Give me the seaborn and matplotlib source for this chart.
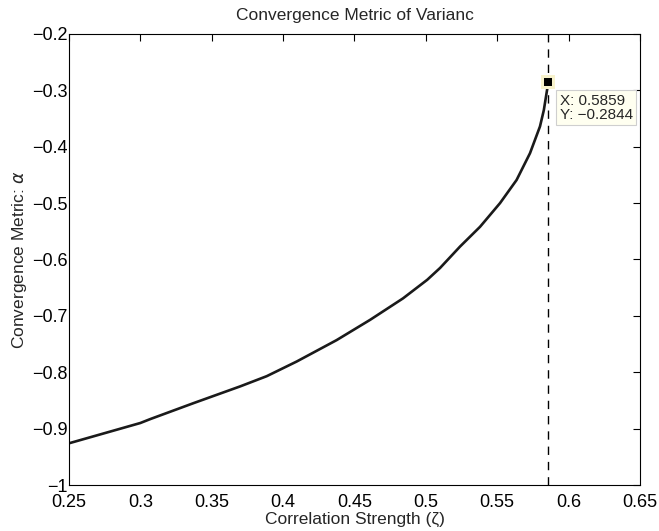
import numpy as np
import pandas as pd
import seaborn as sns
import matplotlib
matplotlib.use("Agg")
import matplotlib.pyplot as plt

# valores
zeta = [0.25, 0.275, 0.300, 0.307, 0.337, 0.370, 0.3885, 0.4095, 0.4375, 0.461, 0.484,
        0.501, 0.510, 0.524, 0.538, 0.552, 0.5636, 0.573, 0.580, 0.5827, 0.5846, 0.5859]
alpha = [-0.926, -0.908, -0.890, -0.883, -0.855, -0.825, -0.807, -0.781, -0.743, -0.707, -0.669,
         -0.636, -0.615, -0.577, -0.542, -0.500, -0.459, -0.4115, -0.364, -0.335, -0.305, -0.2844]
x_tip = 0.5859
y_tip = -0.2844
xticks = [0.25, 0.3, 0.35, 0.4, 0.45, 0.5, 0.55, 0.6, 0.65]
yticks = [-1, -0.9, -0.8, -0.7, -0.6, -0.5, -0.4, -0.3, -0.2]

df = pd.DataFrame({'zeta': zeta, 'alpha': alpha})

sns.set_style("white")
plt.rcParams['font.family'] = ['Liberation Sans', 'DejaVu Sans']
plt.rcParams['mathtext.fontset'] = 'dejavusans'

fig = plt.figure(figsize=(6.59, 5.31), dpi=100)
ax = fig.add_axes([0.1047, 0.0866, 0.8663, 0.8494])

sns.lineplot(data=df, x='zeta', y='alpha', sort=False, color='#1a1a1a', linewidth=1.9, ax=ax)
ax.axvline(x_tip, color='k', linestyle=(0, (6, 5)), linewidth=1)

# datatip
ax.plot([x_tip], [y_tip], marker='s', markersize=10, color='#f7f2cc',
        markeredgewidth=0, zorder=5, clip_on=False)
ax.plot([x_tip], [y_tip], marker='s', markersize=6, color='k',
        markeredgewidth=0, zorder=6, clip_on=False)
ax.annotate(f"X: {x_tip}\nY: \u2212{abs(y_tip)}", xy=(x_tip, y_tip),
            xytext=(8, -9), textcoords='offset points', ha='left', va='top',
            fontsize=11, linespacing=0.95, annotation_clip=False,
            bbox=dict(boxstyle='square,pad=0.25', fc='#fffff0', ec='#cfcfcf', lw=0.8),
            zorder=7)

ax.set_xlim(0.25, 0.65)
ax.set_ylim(-1, -0.2)
ax.set_xticks(xticks)
ax.set_xticklabels(['0.25', '0.3', '0.35', '0.4', '0.45', '0.5', '0.55', '0.6', '0.65'])
ax.set_yticks(yticks)
ax.set_yticklabels(['\u22121', '\u22120.9', '\u22120.8', '\u22120.7', '\u22120.6',
                    '\u22120.5', '\u22120.4', '\u22120.3', '\u22120.2'])
ax.tick_params(direction='in', length=5, width=0.8, top=True, right=True,
               labelsize=13, colors='k')
ax.tick_params(axis='x', pad=6.5)
ax.tick_params(axis='y', pad=1)
for s in ax.spines.values():
    s.set_color('k')
    s.set_linewidth(0.8)

ax.set_xlabel('Correlation Strength (\u03b6)', fontsize=12.5, labelpad=1)
ax.set_ylabel(r'Convergence Metric: $\alpha$', fontsize=12.5, labelpad=2)
ax.set_title('Convergence Metric of Varianc', fontsize=12.5, pad=10)

fig.savefig('out.png', dpi=100)
